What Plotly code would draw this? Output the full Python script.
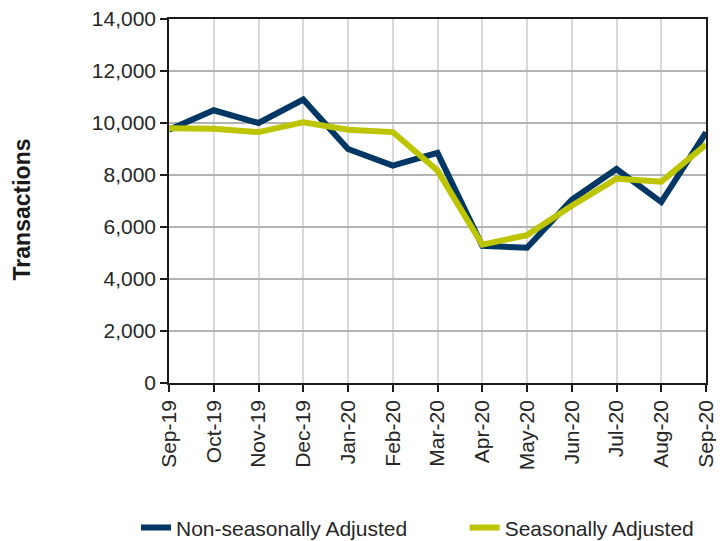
import plotly.graph_objects as go

months = ["Sep-19", "Oct-19", "Nov-19", "Dec-19", "Jan-20", "Feb-20", "Mar-20",
          "Apr-20", "May-20", "Jun-20", "Jul-20", "Aug-20", "Sep-20"]
non_seasonal = [9740, 10490, 10000, 10900, 9000, 8360, 8850,
                5280, 5200, 7050, 8230, 6960, 9640]
seasonal = [9800, 9780, 9650, 10030, 9740, 9650, 8170,
            5320, 5690, 6820, 7860, 7740, 9170]
y_ticks = [0, 2000, 4000, 6000, 8000, 10000, 12000, 14000]
series_names = ["Non-seasonally Adjusted", "Seasonally Adjusted"]
y_title = "Transactions"

NAVY = "#003764"
YELLOW = "#BDC400"
FONT = "Liberation Sans, Arial, sans-serif"
PAD = "\u00a0" * 9

fig = go.Figure()
fig.add_trace(go.Scatter(x=months, y=non_seasonal, mode="lines",
                         name=series_names[0] + PAD,
                         line=dict(color=NAVY, width=6)))
fig.add_trace(go.Scatter(x=months, y=seasonal, mode="lines",
                         name=series_names[1],
                         line=dict(color=YELLOW, width=6)))

fig.update_layout(
    width=716, height=533,
    margin=dict(l=161, r=18, t=11, b=158, autoexpand=False),
    paper_bgcolor="white", plot_bgcolor="white",
    font=dict(family=FONT, size=21, color="#262626"),
    showlegend=True,
    legend=dict(orientation="h", x=-0.0615, xanchor="left", y=-0.398,
                yanchor="middle", font=dict(size=21, color="#262626"),
                tracegroupgap=0),
    annotations=[dict(text="<b>" + y_title + "</b>", textangle=-90,
                      xref="paper", yref="paper",
                      x=-0.273, y=0.478, xanchor="center", yanchor="middle",
                      showarrow=False, font=dict(size=23, family=FONT,
                                                 color="#1a1a1a"))],
)
fig.update_xaxes(
    type="category", range=[0, len(months) - 1], automargin=False,
    showgrid=True, gridcolor="#d9d9d9", gridwidth=1.5,
    showline=True, linecolor="#1a1a1a", linewidth=1.5, mirror=True,
    ticks="outside", ticklen=7, tickcolor="#1a1a1a", tickwidth=1.5,
    tickangle=-90, tickfont=dict(size=21, family=FONT),
)
fig.update_yaxes(
    range=[0, 14000], tickvals=y_ticks, tickformat=",", automargin=False,
    ticklabeloverflow="allow",
    showgrid=True, gridcolor="#b3b3b3", gridwidth=1.5, zeroline=False,
    showline=True, linecolor="#1a1a1a", linewidth=1.5, mirror=True,
    ticks="outside", ticklen=7, tickcolor="#1a1a1a", tickwidth=1.5,
    tickfont=dict(size=21, family=FONT),
)

fig.write_html("out.html")
